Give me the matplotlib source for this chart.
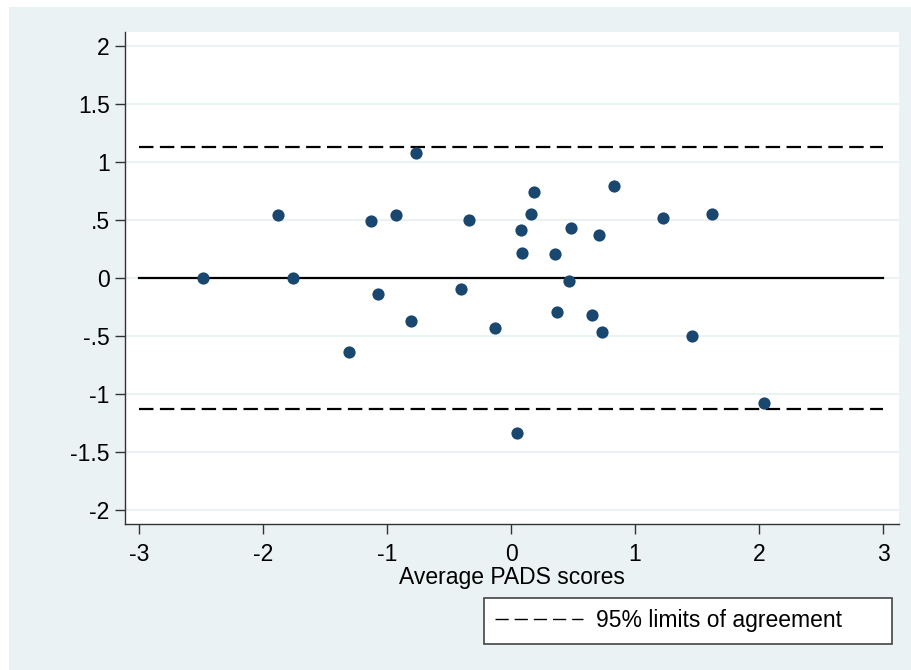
import matplotlib
matplotlib.use("Agg")
import matplotlib.pyplot as plt
from matplotlib.patches import Rectangle
from matplotlib.lines import Line2D

plt.rcParams['font.family'] = ['Liberation Sans', 'DejaVu Sans']

# Data: average score vs difference
avg = [-2.486, -1.879, -1.758, -1.304, -1.129, -1.073, -0.930, -0.804, -0.764,
       -0.407, -0.341, -0.129, 0.046, 0.078, 0.086, 0.164, 0.185, 0.352, 0.368,
       0.465, 0.481, 0.656, 0.712, 0.737, 0.833, 1.226, 1.462, 1.621, 2.043]
diff = [0.0, 0.543, 0.0, -0.635, 0.494, -0.138, 0.546, -0.371, 1.078,
        -0.093, 0.503, -0.434, -1.339, 0.411, 0.218, 0.552, 0.741, 0.207, -0.293,
        -0.023, 0.428, -0.322, 0.368, -0.463, 0.796, 0.514, -0.500, 0.552, -1.080]
mean_diff = 0.0
upper_loa = 1.126
lower_loa = -1.126
line_x = [-3, 3]

xticks = [-3, -2, -1, 0, 1, 2, 3]
xtick_labels = ['-3', '-2', '-1', '0', '1', '2', '3']
yticks = [2, 1.5, 1, 0.5, 0, -0.5, -1, -1.5, -2]
ytick_labels = ['2', '1.5', '1', '.5', '0', '-.5', '-1', '-1.5', '-2']

BG = '#EAF2F3'
MARK = '#1A476F'
W, H = 912, 670
FS = 16.5

fig = plt.figure(figsize=(W / 100, H / 100), dpi=100)
fig.patch.set_facecolor('white')
fig.patches.append(Rectangle((9 / W, 0), 1 - 9 / W, 1 - 7 / H, transform=fig.transFigure,
                             facecolor=BG, edgecolor='none', zorder=-10))

ax = fig.add_axes([125 / W, 1 - 524 / H, (899 - 125) / W, (524 - 32) / H])
ax.set_zorder(1)
ax.set_facecolor('white')

ax.plot(avg, diff, 'o', color=MARK, markersize=8.8, markeredgewidth=0, zorder=4)
ax.plot(line_x, [mean_diff, mean_diff], color='black', lw=1.6, zorder=3)
dash = (0, (6.5, 2.9))
ax.plot(line_x, [upper_loa, upper_loa], color='black', lw=1.6, linestyle=dash, zorder=3)
ax.plot(line_x, [lower_loa, lower_loa], color='black', lw=1.6, linestyle=dash, zorder=3)

ax.set_xlim(-3.113, 3.129)
ax.set_ylim(-2.12, 2.12)
ax.set_xticks(xticks)
ax.set_xticklabels(xtick_labels)
ax.set_yticks(yticks)
ax.set_yticklabels(ytick_labels)
ax.yaxis.grid(True, color=BG, lw=1.5, zorder=1)
ax.set_axisbelow(True)

for s in ['top', 'right']:
    ax.spines[s].set_visible(False)
for s in ['left', 'bottom']:
    ax.spines[s].set_color('#333333')
    ax.spines[s].set_linewidth(1.0)
ax.tick_params(axis='both', direction='out', length=7.5, width=1.0, color='#333333',
               labelsize=FS, labelcolor='black')
ax.tick_params(axis='y', pad=3.5)
ax.tick_params(axis='x', pad=6)
ax.set_xlabel('Average PADS scores', fontsize=FS, labelpad=0)

handle = Line2D([], [], color='black', lw=1.0, linestyle=(0, (9.5, 4.3)))
leg = fig.legend([handle], ['95% limits of agreement'], loc='center',
                 bbox_to_anchor=(484 / W, 1 - 643 / H, (892 - 484) / W, 44 / H),
                 mode='expand', borderaxespad=0, fontsize=FS, handlelength=3.8,
                 handletextpad=0.6, borderpad=0.5, fancybox=False, frameon=True,
                 framealpha=1)
leg.get_frame().set_edgecolor('#444444')
leg.get_frame().set_linewidth(1.2)
leg.get_frame().set_facecolor('white')

fig.savefig('out.png', dpi=100, facecolor=fig.get_facecolor())
